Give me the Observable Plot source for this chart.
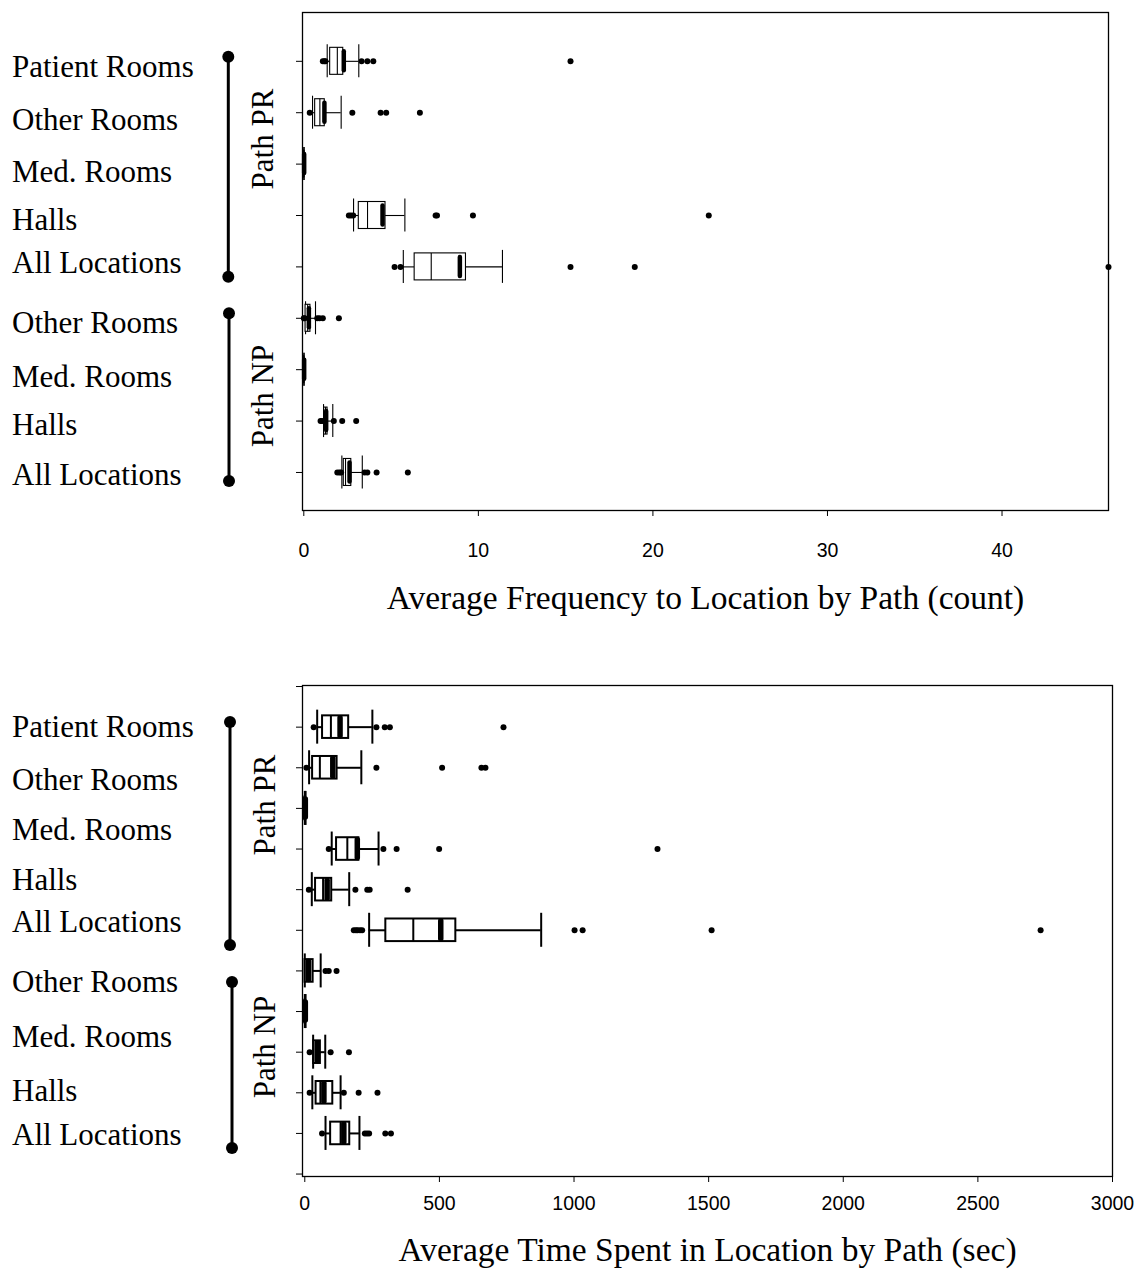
<!DOCTYPE html>
<html><head><meta charset="utf-8">
<script src="https://cdn.jsdelivr.net/npm/d3@7"></script>
<script src="https://cdn.jsdelivr.net/npm/@observablehq/plot@0.6"></script>
<style>
body{margin:0;background:#fff;}
#wrap{position:relative;width:1136px;height:1272px;overflow:hidden;background:#fff;}
#wrap > svg{position:absolute;left:0;}
</style></head><body><div id="wrap"></div>
<script>
// ---------- data ----------
const locationLabels = ["Patient Rooms","Other Rooms","Med. Rooms","Halls","All Locations","Other Rooms","Med. Rooms","Halls","All Locations"];
const pathGroups = ["Path PR","Path NP"];

// Panel A: Average Frequency to Location by Path (count), 9 rows (top to bottom)
const freqRows  = [0,1,2,3,4,5,6,7,8];
const freqLow   = [1.34,0.50,0.00,2.85,5.70,0.10,0.00,1.13,2.18];
const freqQ1    = [1.51,0.65,0.01,3.15,6.35,0.10,0.01,1.16,2.29];
const freqMed   = [1.92,0.92,0.01,3.65,7.30,0.22,0.01,1.24,2.39];
const freqMean  = [2.29,1.18,0.02,4.51,8.94,0.29,0.02,1.28,2.62];
const freqQ3    = [2.26,1.20,0.02,4.68,9.29,0.38,0.02,1.36,2.72];
const freqHigh  = [3.15,2.14,0.02,5.79,11.38,0.67,0.02,1.66,3.35];
const freqOut   = [
  [1.09,1.18,1.24,3.31,3.64,3.98,15.28],
  [0.34,2.78,4.40,4.72,6.65],
  [],
  [2.58,2.70,2.83,7.55,7.63,9.69,23.2],
  [5.20,5.54,15.28,18.96,46.1],
  [0.00,0.05,0.77,0.90,1.09,2.01],
  [],
  [0.96,1.05,1.72,2.20,3.00],
  [1.92,2.05,2.14,3.48,3.64,4.17,5.96]
];
const freqTicks = [0,10,20,30,40];

// Panel B: Average Time Spent in Location by Path (sec), 11 rows (top to bottom)
const timeRows  = [0,1,2,3,4,5,6,7,8,9,10];
const timeLow   = [46,16,0,100,26,239,0,0,31,28,77];
const timeQ1    = [66,29,0,118,40,301,1,0,33,42,96];
const timeMed   = [97,56,1,158,68,403,6,1,41,58,133];
const timeMean  = [131,104,2,195,83,505,14,2,46,71,145];
const timeQ3    = [163,120,2,201,100,561,31,2,58,104,167];
const timeHigh  = [251,210,3,274,165,878,59,3,76,133,203];
const timeOut   = [
  [33,266,297,316,738],
  [6,266,510,656,671],
  [],
  [89,292,341,499,1310],
  [15,188,232,241,382],
  [182,190,196,205,213,1002,1032,1511,2733],
  [77,89,118],
  [],
  [18,96,164],
  [18,145,200,270],
  [64,223,231,239,299,320]
];
const timeTicks = [0,500,1000,1500,2000,2500,3000];

const titles = ["Average Frequency to Location by Path (count)","Average Time Spent in Location by Path (sec)"];

// ---------- drawing ----------
const SERIF = "'Liberation Serif','Times New Roman',serif";
const SANS = "'Liberation Sans',Arial,sans-serif";

function panel(o){
  const data = o.rows.map((r,i)=>({i:r, wl:o.low[i], q1:o.q1[i], med:o.med[i], mean:o.mean[i], q3:o.q3[i], wh:o.high[i]}));
  const pts = o.out.flatMap((a,i)=>a.map(v=>({i:o.rows[i], v})));
  const ppu = (o.height-o.mt-o.mb)/(o.yDomain[1]-o.yDomain[0]);
  const bh=o.boxH/ppu, ch=o.capH/ppu, mh=o.meanH/ppu;
  return Plot.plot({
    width:1136, height:o.height,
    marginTop:o.mt, marginBottom:o.mb, marginLeft:302, marginRight:o.mr,
    style:{fontFamily:SANS, fontSize:"19.5px", color:"black", background:"transparent", overflow:"visible"},
    x:{domain:o.xDomain, ticks:o.xTicks, tickSize:6, tickPadding:o.tickPad, tickFormat:d=>String(d), label:null},
    y:{domain:o.yDomain, reverse:true, ticks:o.yTicks, tickSize:6, tickFormat:()=>"", label:null},
    marks:[
      Plot.ruleY(data,{y:"i", x1:"wl", x2:"q1", stroke:"black", strokeWidth:o.sw}),
      Plot.ruleY(data,{y:"i", x1:"q3", x2:"wh", stroke:"black", strokeWidth:o.sw}),
      Plot.ruleX(data,{x:"wl", y1:d=>d.i-ch, y2:d=>d.i+ch, stroke:"black", strokeWidth:o.sw}),
      Plot.ruleX(data,{x:"wh", y1:d=>d.i-ch, y2:d=>d.i+ch, stroke:"black", strokeWidth:o.sw}),
      Plot.rect(data,{x1:"q1", x2:"q3", y1:d=>d.i-bh, y2:d=>d.i+bh, fill:"white", stroke:"black", strokeWidth:o.sw}),
      Plot.ruleX(data,{x:"med", y1:d=>d.i-bh, y2:d=>d.i+bh, stroke:"black", strokeWidth:o.sw}),
      Plot.ruleX(data,{x:"mean", y1:d=>d.i-mh, y2:d=>d.i+mh, stroke:"black", strokeWidth:o.meanW, strokeLinecap:"round"}),
      Plot.dot(pts,{x:"v", y:"i", r:3, fill:"black", stroke:"none"}),
      Plot.frame({stroke:"black", strokeWidth:1.3}),
      Plot.text([o.title],{frameAnchor:"bottom", dy:o.titleDy, lineAnchor:"middle", fontFamily:SERIF, fontSize:33.5, fill:"black"})
    ]
  });
}

const wrap = document.getElementById("wrap");

const top1 = panel({
  rows:freqRows, low:freqLow, q1:freqQ1, med:freqMed, mean:freqMean, q3:freqQ3, high:freqHigh, out:freqOut,
  xDomain:[-0.075,46.1], xTicks:freqTicks, yDomain:[-0.95,8.74], yTicks:freqRows,
  height:640, mt:12, mb:130, mr:28, tickPad:27, titleDy:88,
  boxH:13.5, capH:16.5, meanH:9.5, meanW:4.5, sw:1.1, title:titles[0]
});
top1.style.top = "0px";
wrap.appendChild(top1);

const bot = panel({
  rows:timeRows, low:timeLow, q1:timeQ1, med:timeMed, mean:timeMean, q3:timeQ3, high:timeHigh, out:timeOut,
  xDomain:[-8.5,3000], xTicks:timeTicks, yDomain:[-1.025,11.06], yTicks:d3.range(-1,12),
  height:632, mt:45, mb:96, mr:24, tickPad:14, titleDy:74,
  boxH:11.3, capH:17, meanH:9, meanW:5.5, sw:2, title:titles[1]
});
bot.style.top = "640px";
wrap.appendChild(bot);

// left-hand row labels and path brackets (layout annotation)
const ann = d3.select(wrap).append("svg")
  .attr("width",300).attr("height",1272)
  .style("position","absolute").style("left","0px").style("top","0px");

const layouts = [
  {baselines:[76.7,130,181.7,230,272.7,333,386.7,435,485],
   brackets:[{x:228.3,y1:56.7,y2:276.7},{x:229,y1:313.3,y2:481}],
   pathText:[{x:273,y:139},{x:273,y:396}]},
  {baselines:[737,790,840,890,932,992,1047,1101,1145],
   brackets:[{x:230,y1:722,y2:945},{x:232,y1:982,y2:1148}],
   pathText:[{x:275,y:805},{x:275,y:1047}]}
];
layouts.forEach(L=>{
  locationLabels.forEach((t,i)=>{
    ann.append("text").attr("x",12).attr("y",L.baselines[i])
      .attr("font-family",SERIF).attr("font-size",31).attr("fill","black").text(t);
  });
  L.brackets.forEach(b=>{
    ann.append("line").attr("x1",b.x).attr("x2",b.x).attr("y1",b.y1).attr("y2",b.y2)
      .attr("stroke","black").attr("stroke-width",3);
    ann.append("circle").attr("cx",b.x).attr("cy",b.y1).attr("r",6).attr("fill","black");
    ann.append("circle").attr("cx",b.x).attr("cy",b.y2).attr("r",6).attr("fill","black");
  });
  L.pathText.forEach((p,k)=>{
    ann.append("text").attr("transform",`translate(${p.x},${p.y}) rotate(-90)`)
      .attr("text-anchor","middle").attr("font-family",SERIF).attr("font-size",31)
      .attr("fill","black").text(pathGroups[k]);
  });
});
</script></body></html>
